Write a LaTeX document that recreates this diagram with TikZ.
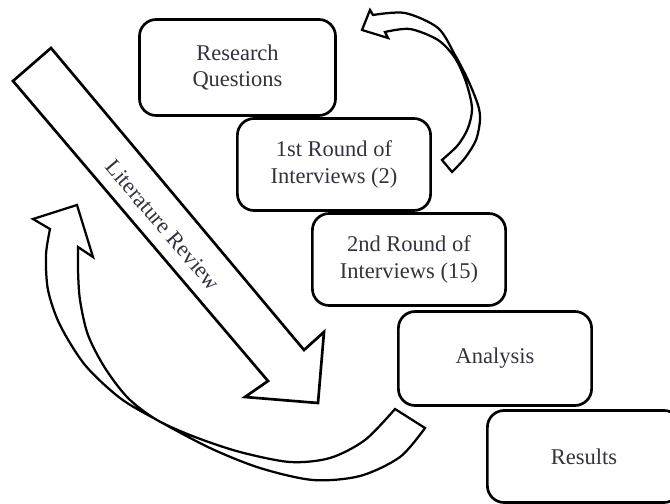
\documentclass[tikz,border=0pt]{standalone}
\usepackage{fontspec}
\setmainfont{Liberation Serif}
\usepackage{tikz}
\usetikzlibrary{calc,positioning}
\definecolor{textgray}{rgb}{0.2,0.2,0.25}

\begin{document}
\begin{tikzpicture}[x=0.025cm,y=-0.025cm,
        stage/.style={draw,line width=1.9pt,rounded corners=0.42cm,fill=white,
            minimum width=4.83cm,minimum height=2.3cm,align=center,
            font=\fontsize{16}{19}\selectfont,text=textgray},
        blockarrow/.style={draw,line width=1.6pt,fill=white}]
                \useasboundingbox (0,0) rectangle (670,504);
                \clip (0,0) rectangle (670,504);
                %Boxes
                \node[stage,minimum width=4.9cm,minimum height=2.4cm] (rq) at (237.5,67.5) {Research\\Questions};
                \node[stage] (round1) at (334,164.5) {1st Round of\\Interviews (2)};
                \node[stage] (round2) at (409,259.5) {2nd Round of\\Interviews (15)};
                \node[stage,minimum height=2.35cm] (analysis) at (495,358.5) {Analysis};
                \node[stage] (results) at (584,456.5) {Results};
                %Literature review arrow
                \coordinate (l1) at (51,48);
                \coordinate (l2) at (304,350);
                \coordinate (l3) at (324,332);
                \coordinate (l4) at (318,403);
                \coordinate (l5) at (245,397);
                \coordinate (l6) at (268,381);
                \coordinate (l7) at (13,81);
                \filldraw[blockarrow,line width=1.9pt] (l1) -- (l2) -- (l3) -- (l4) -- (l5) -- (l6) -- (l7) -- cycle;
                \node[rotate=-49.5,font=\fontsize{16}{19}\selectfont,text=textgray] (litreview) at (163,225) {Literature Review};
                %Feedback arrow (top)
                \coordinate (t1) at (385,32);
                \coordinate (t2) at (388,38);
                \coordinate (t3) at (362,30);
                \coordinate (t4) at (370,10);
                \coordinate (t5) at (373,15);
                \filldraw[blockarrow] (t1) -- (t2) -- (t3) -- (t4) -- (t5)
                    -- plot[smooth] coordinates {(373,15) (405,13) (438,28) (455,55) (468,80) (478,105) (480,120) (476,140) (465,158) (452,172)}
                    -- plot[smooth] coordinates {(442,160) (458,145) (468,128) (472,108) (466,82) (455,58) (438,40) (410,29) (385,32)} -- cycle;
                %Feedback arrow (bottom)
                \coordinate (b1) at (78,247);
                \coordinate (b2) at (93,257);
                \coordinate (b3) at (77,205);
                \coordinate (b4) at (33,219);
                \coordinate (b5) at (50,229);
                \filldraw[blockarrow] (b1) -- (b2) -- (b3) -- (b4) -- (b5)
                    -- plot[smooth] coordinates {(50,229) (46,255) (48,290) (60,325) (85,365) (120,398) (157,420) (210,448) (260,468) (313,480) (360,476) (400,457) (425,428)}
                    -- plot[smooth] coordinates {(395,409) (365,440) (330,458) (290,462) (240,452) (195,437) (157,420) (128,398) (105,368) (88,335) (80,300) (78,270) (78,247)} -- cycle;
\end{tikzpicture}
\end{document}
